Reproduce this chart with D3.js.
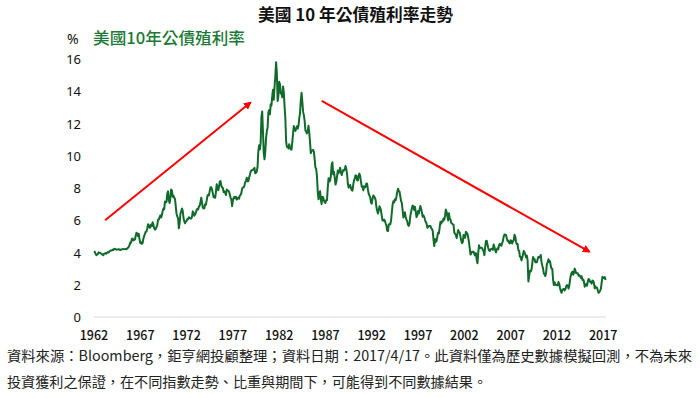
<!DOCTYPE html>
<html lang="zh-Hant">
<head>
<meta charset="utf-8">
<title>美國 10 年公債殖利率走勢</title>
<style>
  body { margin: 0; background: #fff; }
  svg text { font-family: "Noto Sans CJK TC", "Noto Sans", sans-serif; }
</style>
</head>
<body>
<svg id="chart" width="700" height="398"></svg>
<script src="https://cdn.jsdelivr.net/npm/d3@7/dist/d3.min.js"></script>
<script>
// 月資料起點
var startYear = 1962;

// 美國10年公債殖利率 (%)，每列一年 12 個月
var yields = [
  4.08,4.04,3.93,3.84,3.87,3.91,4.01,3.98,3.98,3.93,3.92,3.86,
  3.83,3.92,3.93,3.97,3.93,3.99,4.02,4.00,4.08,4.11,4.12,4.13,
  4.17,4.15,4.22,4.23,4.20,4.17,4.19,4.19,4.20,4.19,4.15,4.18,
  4.19,4.21,4.21,4.20,4.21,4.21,4.20,4.25,4.29,4.35,4.45,4.62,
  4.61,4.83,4.87,4.75,4.78,4.81,5.02,5.22,5.18,5.01,5.16,4.84,
  4.58,4.63,4.54,4.59,4.85,5.02,5.16,5.28,5.30,5.48,5.75,5.70,
  5.53,5.56,5.74,5.64,5.87,5.72,5.50,5.42,5.46,5.58,5.70,6.03,
  6.04,6.19,6.30,6.17,6.32,6.57,6.72,6.69,7.16,7.10,7.14,7.65,
  7.79,7.24,7.07,7.39,7.91,7.84,7.46,7.53,7.39,7.33,6.84,6.39,
  6.24,6.11,5.50,5.83,6.39,6.52,6.73,6.58,6.14,5.93,5.81,5.93,
  5.95,6.08,6.07,6.19,6.13,6.11,6.11,6.21,6.55,6.48,6.28,6.36,
  6.46,6.64,6.71,6.67,6.85,6.90,7.13,7.40,7.09,6.79,6.73,6.74,
  6.99,6.96,7.21,7.51,7.58,7.54,7.81,8.04,8.04,7.90,7.68,7.43,
  7.50,7.39,7.73,8.23,8.06,7.86,8.06,8.40,8.43,8.14,8.05,8.00,
  7.74,7.79,7.73,7.56,7.90,7.86,7.83,7.77,7.59,7.41,7.29,6.87,
  7.21,7.39,7.46,7.37,7.46,7.28,7.33,7.40,7.34,7.52,7.58,7.69,
  7.96,8.03,8.04,8.15,8.35,8.46,8.64,8.41,8.42,8.64,8.81,9.01,
  9.10,9.10,9.12,9.18,9.25,8.91,8.95,9.03,9.33,10.30,10.65,10.39,
  10.80,12.41,12.75,11.47,10.18,9.78,10.25,11.10,11.51,11.75,12.68,12.84,
  12.57,13.19,13.12,13.68,14.10,13.47,14.28,14.94,15.80,15.15,13.39,13.72,
  14.59,14.43,13.86,13.87,13.62,14.30,13.95,13.06,12.34,10.91,10.55,10.54,
  10.46,10.72,10.51,10.40,10.38,10.85,11.38,11.85,11.65,11.54,11.69,11.83,
  11.67,11.84,12.32,12.63,13.41,13.90,13.36,12.72,12.52,12.16,11.57,11.50,
  11.38,11.51,11.86,11.43,10.85,10.16,10.31,10.33,10.37,10.24,9.78,9.26,
  9.19,8.70,7.78,7.30,7.71,7.80,7.30,7.00,7.45,7.43,7.25,7.11,
  7.08,7.25,7.25,8.02,8.61,8.40,8.45,8.76,9.42,9.60,8.86,8.99,
  8.67,8.21,8.37,8.72,9.09,8.92,9.06,9.26,8.98,8.80,8.96,9.11,
  9.09,9.17,9.36,9.18,8.86,8.28,8.02,8.11,8.19,8.01,7.87,7.84,
  8.21,8.47,8.59,8.79,8.76,8.48,8.47,8.75,8.89,8.72,8.39,8.08,
  8.09,7.85,8.11,8.04,8.07,8.28,8.27,7.90,7.65,7.53,7.42,7.09,
  7.03,7.34,7.54,7.48,7.39,7.26,6.84,6.59,6.42,6.59,6.87,6.77,
  6.60,6.26,5.98,5.97,6.04,5.96,5.81,5.68,5.36,5.33,5.72,5.77,
  5.75,5.97,6.48,6.97,7.18,7.10,7.30,7.24,7.46,7.74,7.96,7.81,
  7.78,7.47,7.20,7.06,6.63,6.17,6.28,6.49,6.20,6.04,5.93,5.71,
  5.65,5.81,6.27,6.51,6.74,6.91,6.87,6.64,6.83,6.53,6.20,6.30,
  6.58,6.42,6.69,6.89,6.71,6.49,6.22,6.30,6.21,6.03,5.88,5.81,
  5.54,5.57,5.65,5.64,5.65,5.50,5.46,5.34,4.81,4.40,4.83,4.65,
  4.72,5.00,5.23,5.18,5.54,5.90,5.79,5.94,5.92,6.11,6.03,6.28,
  6.66,6.52,6.26,5.99,6.44,6.10,6.05,5.83,5.80,5.74,5.72,5.24,
  5.16,5.10,4.89,5.14,5.39,5.28,5.24,4.97,4.73,4.57,4.65,5.09,
  5.04,4.91,5.28,5.21,5.16,4.93,4.65,4.26,3.87,3.94,4.05,4.03,
  4.05,3.90,3.81,3.96,3.57,3.33,3.98,4.45,4.27,4.29,4.30,4.27,
  4.15,4.08,3.83,4.35,4.72,4.73,4.50,4.28,4.13,4.10,4.19,4.23,
  4.22,4.17,4.50,4.34,4.14,4.00,4.18,4.26,4.20,4.46,4.54,4.47,
  4.42,4.57,4.72,4.99,5.11,5.11,5.09,4.88,4.72,4.73,4.60,4.56,
  4.76,4.72,4.56,4.69,4.75,5.10,5.00,4.67,4.52,4.53,4.15,4.10,
  3.74,3.74,3.51,3.68,3.88,4.10,4.01,3.89,3.69,3.81,3.53,2.20,
  2.52,2.87,2.82,2.93,3.29,3.72,3.56,3.59,3.40,3.39,3.40,3.59,
  3.73,3.69,3.73,3.85,3.42,3.20,3.01,2.70,2.65,2.54,2.76,3.29,
  3.39,3.58,3.41,3.46,3.17,3.00,3.00,2.30,1.98,2.15,2.01,1.98,
  1.97,1.97,2.17,2.05,1.80,1.62,1.50,1.68,1.72,1.75,1.65,1.72,
  1.91,1.98,1.96,1.76,1.93,2.30,2.58,2.74,2.81,2.62,2.72,3.00,
  2.86,2.71,2.72,2.71,2.56,2.60,2.54,2.42,2.53,2.30,2.33,2.21,
  1.88,1.98,2.04,1.94,2.20,2.36,2.32,2.17,2.17,2.07,2.26,2.24,
  2.09,1.78,1.89,1.81,1.81,1.64,1.50,1.56,1.63,1.76,2.14,2.49,
  2.43,2.42,2.48,2.30
];

var xTicks = [1962,1967,1972,1977,1982,1987,1992,1997,2002,2007,2012,2017];
var yTicks = [0,2,4,6,8,10,12,14,16];

// 趨勢箭頭 (年, 殖利率)
var upArrow = [[1963.2, 6.0], [1978.9, 13.3]];
var downArrow = [[1986.6, 13.4], [2015.5, 4.05]];

var titleText = "美國 10 年公債殖利率走勢";
var legendText = "美國10年公債殖利率";
var notes = [
  "資料來源：Bloomberg，鉅亨網投顧整理；資料日期：2017/4/17。此資料僅為歷史數據模擬回測，不為未來",
  "投資獲利之保證，在不同指數走勢、比重與期間下，可能得到不同數據結果。"
];

var svg = d3.select('#chart'),
    margin = {left: 94, right: 94, top: 59, bottom: 81};

var series = yields.map(function(v, i){
  return {t: startYear + i / 12, v: v};
});

var x = d3.scaleLinear().domain([1962, 2017.3]).range([margin.left, 700 - margin.right]);
var y = d3.scaleLinear().domain([0, 16]).range([398 - margin.bottom, margin.top]);

// 標題
svg.append('text')
  .attr('x', 258).attr('y', 21)
  .attr('font-size', 16.5).attr('font-weight', 'bold')
  .attr('fill', '#111')
  .attr('textLength', 195).attr('lengthAdjust', 'spacingAndGlyphs')
  .text(titleText);

svg.append('text')
  .attr('x', 67).attr('y', 44)
  .attr('font-size', 14).attr('fill', '#111')
  .style('font-family', '"Noto Sans", sans-serif')
  .text('%');

svg.append('text')
  .attr('x', 93).attr('y', 44)
  .attr('font-size', 16).attr('font-weight', 500)
  .attr('fill', '#1b7a36')
  .attr('textLength', 152).attr('lengthAdjust', 'spacingAndGlyphs')
  .text(legendText);

// 底線
svg.append('line')
  .attr('x1', x(1962)).attr('x2', x(2017.3))
  .attr('y1', y(0)).attr('y2', y(0))
  .attr('stroke', '#d9d9d9').attr('stroke-width', 1);

// y 軸標籤
svg.selectAll('.ylab')
  .data(yTicks).enter()
  .append('text')
  .attr('class', 'ylab')
  .attr('x', 81)
  .attr('y', function(d){ return y(d) + 5; })
  .attr('text-anchor', 'end')
  .attr('font-size', 13).attr('fill', '#111')
  .style('font-family', '"Noto Sans", sans-serif')
  .text(function(d){ return d; });

// x 軸標籤
svg.selectAll('.xlab')
  .data(xTicks).enter()
  .append('text')
  .attr('class', 'xlab')
  .attr('x', function(d){ return x(d); })
  .attr('y', 340)
  .attr('text-anchor', 'middle')
  .attr('font-size', 12.5).attr('fill', '#111')
  .attr('font-weight', 500)
  .text(function(d){ return d; });

// 殖利率線
var line = d3.line()
  .x(function(d){ return x(d.t); })
  .y(function(d){ return y(d.v); });

svg.append('path')
  .datum(series)
  .attr('d', line)
  .attr('fill', 'none')
  .attr('stroke', '#106b2a')
  .attr('stroke-width', 2)
  .attr('stroke-linejoin', 'round');

// 箭頭
svg.append('defs').append('marker')
  .attr('id', 'arrow')
  .attr('viewBox', '0 0 10 10')
  .attr('refX', 8).attr('refY', 5)
  .attr('markerWidth', 4).attr('markerHeight', 4)
  .attr('orient', 'auto')
  .append('path')
  .attr('d', 'M0,0 L10,5 L0,10 z')
  .attr('fill', '#ff0000');

[upArrow, downArrow].forEach(function(a){
  svg.append('line')
    .attr('x1', x(a[0][0])).attr('y1', y(a[0][1]))
    .attr('x2', x(a[1][0])).attr('y2', y(a[1][1]))
    .attr('stroke', '#ff0000').attr('stroke-width', 2)
    .attr('marker-end', 'url(#arrow)');
});

// 附註
svg.selectAll('.note')
  .data(notes).enter()
  .append('text')
  .attr('class', 'note')
  .attr('x', 7)
  .attr('y', function(d, i){ return 361 + i * 25.5; })
  .attr('font-size', 14).attr('fill', '#222')
  .attr('textLength', function(d, i){ return i === 0 ? 685 : 480; })
  .attr('lengthAdjust', 'spacingAndGlyphs')
  .text(function(d){ return d; });
</script>
</body>
</html>
